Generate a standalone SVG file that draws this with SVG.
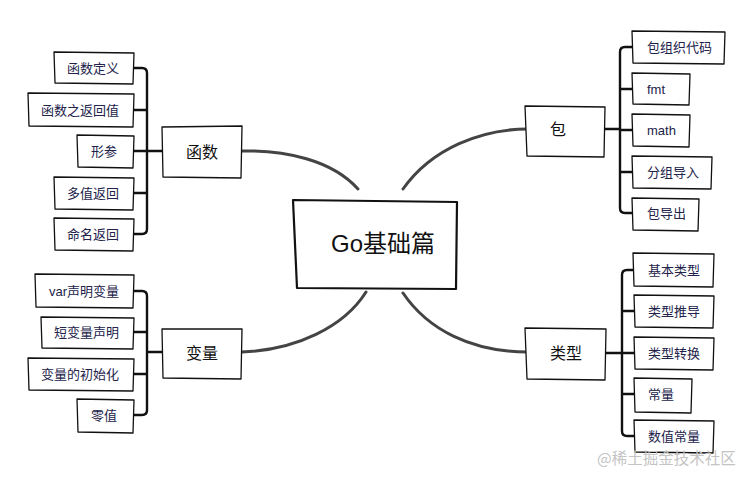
<svg xmlns="http://www.w3.org/2000/svg" width="753" height="482" viewBox="0 0 753 482">
<style>
.bx{fill:#fff;stroke:#111;stroke-width:1.3;stroke-linejoin:round}
.cb{fill:#fff;stroke:#111;stroke-width:2.2;stroke-linejoin:round}
.lt{font-family:"Liberation Sans","Noto Sans CJK SC",sans-serif;font-size:13px;fill:#22224a}
.bt{font-family:"Liberation Sans","Noto Sans CJK SC",sans-serif;font-size:16px;fill:#111;text-anchor:middle}
.ct{font-family:"Liberation Sans","Noto Sans CJK SC",sans-serif;font-size:24px;fill:#111;text-anchor:middle}
.br{fill:none;stroke:#111;stroke-width:2.4;stroke-linecap:round;stroke-linejoin:round}
.cn{fill:none;stroke:#444;stroke-width:3;stroke-linecap:round}
.wm{font-family:"Noto Sans CJK SC","Liberation Sans",sans-serif;font-size:15.5px;fill:#c4c4c4}
</style>
<rect width="753" height="482" fill="#fff"/>
<g id="connectors">
<path class="cn" d="M242,151 C285,150 332,160 358,189"/>
<path class="cn" d="M528,129 C482,129 432,148 403,189"/>
<path class="cn" d="M242,352 C296,350 344,327 366,292"/>
<path class="cn" d="M403,293 C428,330 472,352 528,352"/>
<path class="br" d="M134,68 L142,68 Q147,68 147,73 L147,229 Q147,234 142,234 L134,234 M134,110 H147 M134,193 H147 M134,151 H166"/>
<path class="br" d="M134,291 L142,291 Q147,291 147,296 L147,410 Q147,415 142,415 L134,415 M134,332 H147 M134,374 H147 M147,352 H166"/>
<path class="br" d="M634,47 L625,47 Q620,47 620,52 L620,208 Q620,213 625,213 L634,213 M620,89 H634 M620,130 H634 M620,172 H634 M602,129 H620"/>
<path class="br" d="M636,270 L627,270 Q622,270 622,275 L622,431 Q622,436 627,436 L636,436 M622,311 H636 M622,394 H636 M622,353 H636 M603,353 H622"/>
</g>
<g id="center">
<path class="cb" d="M293,200 L457,202 L456,289 L297,288 Z"/>
<text class="ct" x="383" y="252">Go基础篇</text>
</g>
<g id="hanshu">
<path class="bx" d="M162,127 L242,126 L241,178 L163,177 Z"/>
<text class="bt" x="202" y="158">函数</text>
</g>
<g id="bianliang">
<path class="bx" d="M162,329 L242,329 L241,379 L163,378 Z"/>
<text class="bt" x="202" y="359">变量</text>
</g>
<g id="bao">
<path class="bx" d="M525,106 L605,107 L604,157 L527,156 Z"/>
<text class="bt" x="558" y="135">包</text>
</g>
<g id="leixing">
<path class="bx" d="M525,328 L606,329 L605,380 L527,379 Z"/>
<text class="bt" x="566" y="359">类型</text>
</g>
<g id="l1"><path class="bx" d="M54,52 L134,53 L133,84 L55,83 Z"/><text class="lt" x="119" y="72.5" text-anchor="end">函数定义</text></g>
<g id="l2"><path class="bx" d="M28,93 L134,94 L133,127 L29,126 Z"/><text class="lt" x="119" y="114.5" text-anchor="end">函数之返回值</text></g>
<g id="l3"><path class="bx" d="M77,135 L134,136 L133,168 L78,167 Z"/><text class="lt" x="117" y="155.5" text-anchor="end">形参</text></g>
<g id="l4"><path class="bx" d="M54,177 L134,178 L133,210 L55,209 Z"/><text class="lt" x="119" y="197.5" text-anchor="end">多值返回</text></g>
<g id="l5"><path class="bx" d="M54,218 L134,219 L133,251 L55,250 Z"/><text class="lt" x="119" y="238.5" text-anchor="end">命名返回</text></g>
<g id="l6"><path class="bx" d="M35,274 L134,275 L133,308 L36,307 Z"/><text class="lt" x="119" y="295.5" text-anchor="end">var声明变量</text></g>
<g id="l7"><path class="bx" d="M41,317 L134,318 L133,349 L42,348 Z"/><text class="lt" x="119" y="336.5" text-anchor="end">短变量声明</text></g>
<g id="l8"><path class="bx" d="M28,358 L134,359 L133,391 L29,390 Z"/><text class="lt" x="119" y="378.5" text-anchor="end">变量的初始化</text></g>
<g id="l9"><path class="bx" d="M77,399 L134,400 L133,433 L78,432 Z"/><text class="lt" x="117" y="419.5" text-anchor="end">零值</text></g>
<g id="r1"><path class="bx" d="M632,31 L725,32 L724,64 L633,63 Z"/><text class="lt" x="647" y="51.5">包组织代码</text></g>
<g id="r2"><path class="bx" d="M632,73 L690,74 L689,105 L633,104 Z"/><text class="lt" x="647" y="93.5">fmt</text></g>
<g id="r3"><path class="bx" d="M632,114 L690,115 L689,147 L633,146 Z"/><text class="lt" x="647" y="134.5">math</text></g>
<g id="r4"><path class="bx" d="M632,156 L712,157 L711,189 L633,188 Z"/><text class="lt" x="647" y="176.5">分组导入</text></g>
<g id="r5"><path class="bx" d="M632,198 L699,199 L698,231 L633,230 Z"/><text class="lt" x="647" y="217.5">包导出</text></g>
<g id="r6"><path class="bx" d="M633,253 L714,254 L713,287 L634,286 Z"/><text class="lt" x="648" y="274.5">基本类型</text></g>
<g id="r7"><path class="bx" d="M634,295 L714,296 L713,328 L635,327 Z"/><text class="lt" x="648" y="315.5">类型推导</text></g>
<g id="r8"><path class="bx" d="M634,337 L714,338 L713,370 L635,369 Z"/><text class="lt" x="648" y="357.5">类型转换</text></g>
<g id="r9"><path class="bx" d="M634,378 L692,379 L691,413 L635,412 Z"/><text class="lt" x="648" y="398.5">常量</text></g>
<g id="r10"><path class="bx" d="M634,420 L714,421 L713,453 L635,452 Z"/><text class="lt" x="648" y="440.5">数值常量</text></g>
<text class="wm" x="597" y="464">@稀土掘金技术社区</text>
</svg>
